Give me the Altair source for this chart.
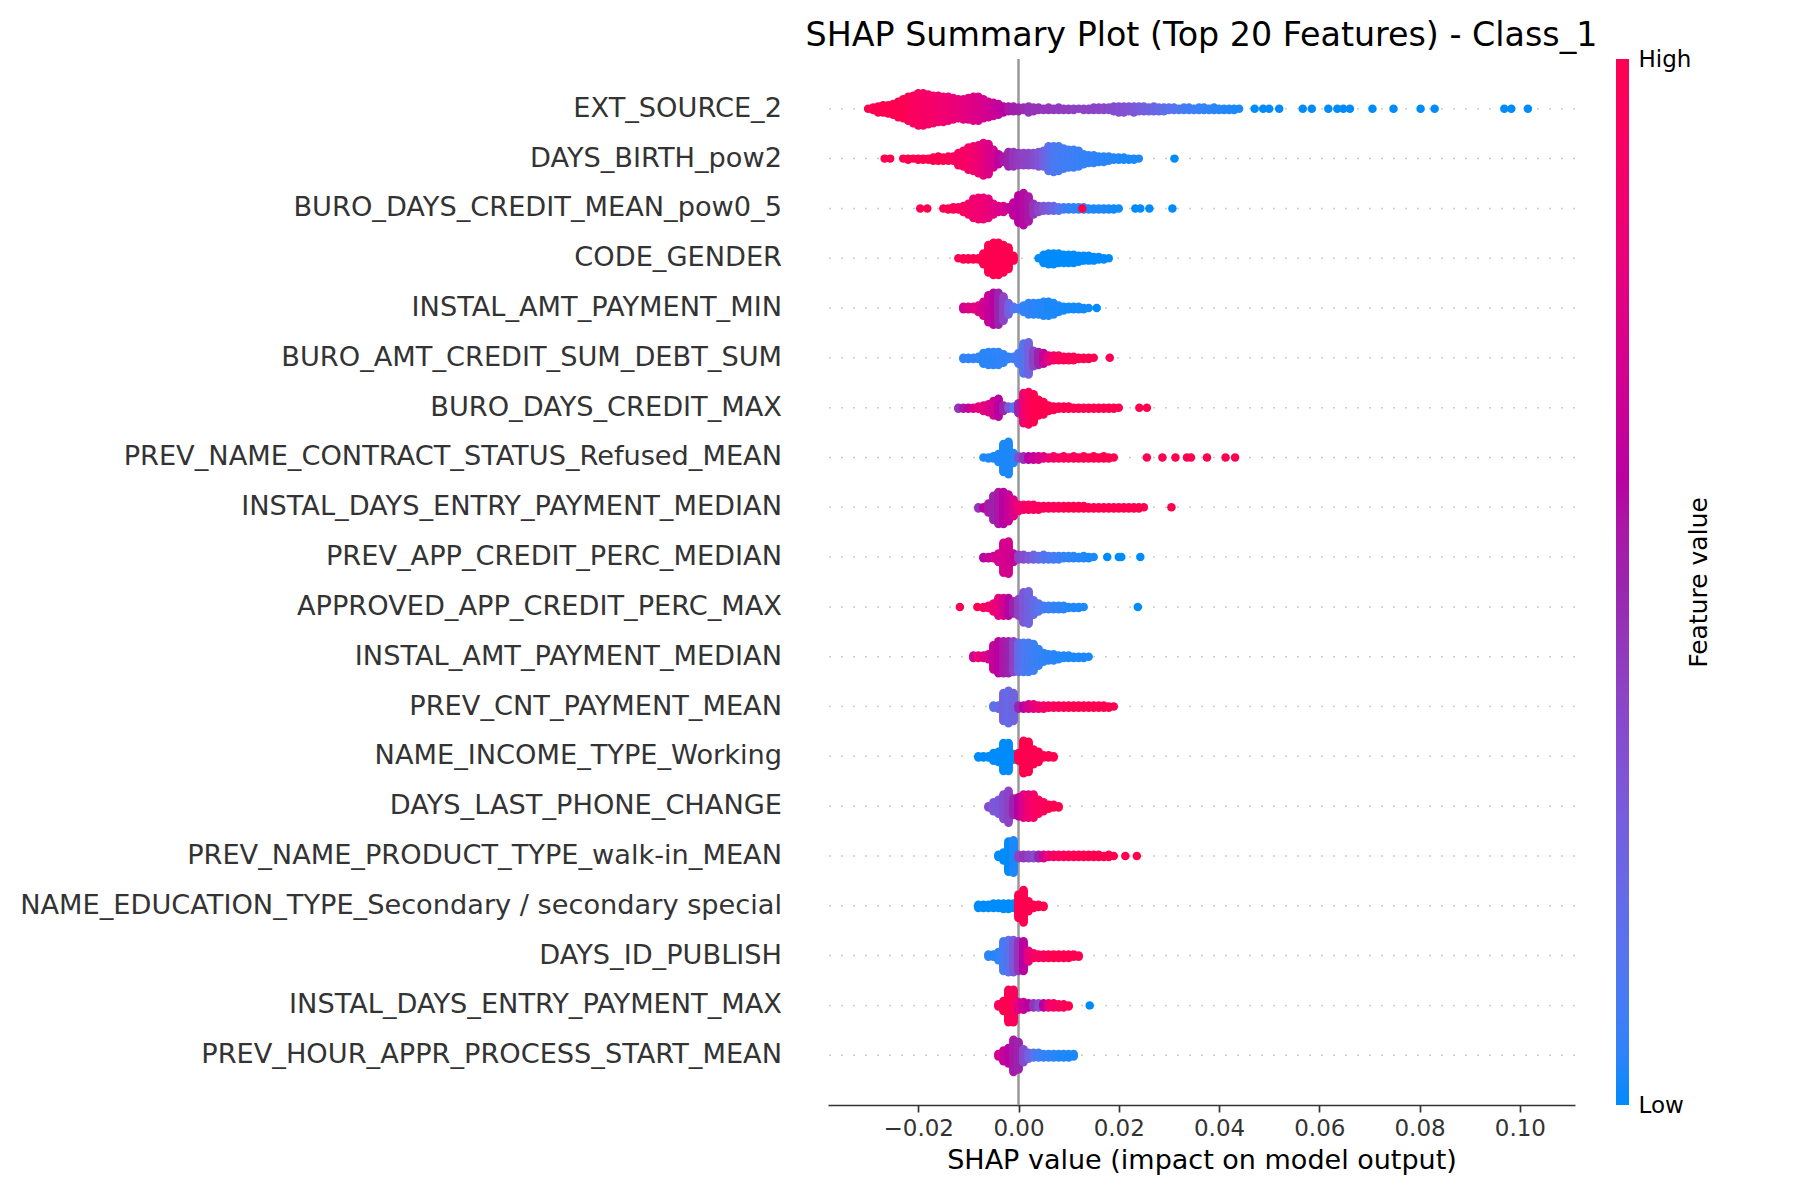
import altair as alt
import numpy as np
import pandas as pd

# rows top to bottom
FEATURES = [
    "EXT_SOURCE_2",
    "DAYS_BIRTH_pow2",
    "BURO_DAYS_CREDIT_MEAN_pow0_5",
    "CODE_GENDER",
    "INSTAL_AMT_PAYMENT_MIN",
    "BURO_AMT_CREDIT_SUM_DEBT_SUM",
    "BURO_DAYS_CREDIT_MAX",
    "PREV_NAME_CONTRACT_STATUS_Refused_MEAN",
    "INSTAL_DAYS_ENTRY_PAYMENT_MEDIAN",
    "PREV_APP_CREDIT_PERC_MEDIAN",
    "APPROVED_APP_CREDIT_PERC_MAX",
    "INSTAL_AMT_PAYMENT_MEDIAN",
    "PREV_CNT_PAYMENT_MEAN",
    "NAME_INCOME_TYPE_Working",
    "DAYS_LAST_PHONE_CHANGE",
    "PREV_NAME_PRODUCT_TYPE_walk-in_MEAN",
    "NAME_EDUCATION_TYPE_Secondary / secondary special",
    "DAYS_ID_PUBLISH",
    "INSTAL_DAYS_ENTRY_PAYMENT_MAX",
    "PREV_HOUR_APPR_PROCESS_START_MEAN",
]

BIN = 0.001  # SHAP bins of 0.001

# each row: (first bin, dots per bin, feature value per bin 0=low..1=high, lone dots (shap, value))
EXT_SOURCE_2 = (
    -0.030,
    [1, 3, 6, 7, 8, 10, 14, 17, 21, 24, 28, 28, 26, 24, 23, 22, 21, 19, 17, 18,
     19, 21, 21, 17, 14, 12, 10, 6, 5, 5, 4, 3, 6, 4, 3, 2, 3, 2, 3, 2,
     2, 2, 1, 2, 2, 3, 3, 3, 3, 5, 6, 6, 5, 6, 5, 5, 4, 5, 4, 4,
     3, 3, 2, 3, 3, 2, 3, 3, 2, 3, 2, 2, 2, 2, 1],
    [1, 1, 1, 1, 1, 1, 1, 1, .97, .95, .93, .92, .9, .9, .88, .86, .85, .84, .82, .8,
     .78, .76, .74, .72, .7, .67, .64, .6, .56, .52, .5, .48, .46, .45, .45, .44, .44, .43, .43, .42,
     .42, .41, .41, .4, .4, .39, .38, .37, .36, .35, .34, .33, .32, .3, .28, .26, .24, .22, .2, .18,
     .16, .14, .12, .1, .09, .08, .07, .06, .05, .04, .04, .03, .03, .02, .02],
    [(0.0471, 0), (0.0488, 0), (0.0500, 0), (0.0520, 0), (0.0567, 0), (0.0585, 0),
     (0.0618, 0), (0.0636, 0), (0.0648, 0), (0.0661, 0), (0.0706, 0), (0.0748, 0),
     (0.0802, 0), (0.0830, 0), (0.0969, 0), (0.0983, 0), (0.1016, 0)],
)
DAYS_BIRTH_pow2 = (
    -0.023,
    [1, 2, 1, 2, 2, 2, 4, 5, 4, 5, 5, 12, 15, 21, 23, 26, 30, 28, 17, 10,
     6, 14, 14, 12, 12, 12, 12, 14, 15, 23, 24, 23, 19, 17, 17, 15, 10, 8, 8, 6,
     6, 5, 3, 3, 3, 2, 2, 1],
    [1, 1, 1, 1, 1, 1, 1, 1, .98, .97, .95, .93, .92, .9, .88, .85, .8, .75, .7, .62,
     .55, .5, .45, .42, .4, .38, .35, .32, .25, .18, .12, .1, .1, .08, .08, .07, .06, .06, .05, .04,
     .04, .04, .03, .03, .02, .02, .02, .02],
    [(-0.0267, 1), (-0.0256, 1), (0.0311, 0)],
)
BURO_DAYS_CREDIT_MEAN_pow0_5 = (
    -0.015,
    [1, 2, 3, 3, 6, 10, 17, 19, 19, 17, 10, 6, 6, 3, 12, 24, 28, 22, 10, 6,
     5, 5, 5, 4, 3, 3, 3, 3, 3, 2, 2, 2, 2, 2, 2, 1],
    [1, 1, .97, .95, .93, .9, .88, .86, .85, .82, .78, .75, .72, .68, .62, .6, .58, .55, .45, .38,
     .32, .28, .22, .15, .1, .06, .05, .04, .04, .03, .02, .02, .02, .02, .01, .01],
    [(-0.0196, 1), (-0.0182, 1), (0.0127, 1), (0.0233, 0), (0.0243, 0), (0.0261, 0), (0.0307, 0)],
)
CODE_GENDER = (
    -0.012,
    [1, 2, 2, 2, 2, 10, 24, 28, 28, 24, 19, 5, 0, 0, 0, 0, 1, 8, 10, 10,
     9, 8, 8, 8, 6, 5, 5, 4, 3, 2, 1],
    [1, 1, 1, 1, 1, 1, 1, 1, 1, 1, 1, 1, 0, 0, 0, 0, 0, 0, 0, 0,
     0, 0, 0, 0, 0, 0, 0, 0, 0, 0, 0],
    [],
)
INSTAL_AMT_PAYMENT_MIN = (
    -0.011,
    [3, 3, 3, 6, 12, 22, 26, 26, 20, 10, 3, 2, 6, 10, 10, 10, 12, 12, 10, 6,
     4, 3, 3, 3, 2, 1],
    [.7, .75, .8, .75, .7, .65, .6, .5, .4, .25, .15, .1, .05, .05, .04, .03, .03, .02, .02, .02,
     .01, .01, .01, .01, .01, .01],
    [(0.0156, 0)],
)
BURO_AMT_CREDIT_SUM_DEBT_SUM = (
    -0.011,
    [2, 2, 2, 3, 10, 12, 12, 12, 8, 3, 3, 10, 26, 28, 14, 12, 10, 6, 5, 5,
     4, 4, 4, 2, 2, 2, 1],
    [.05, .05, .05, .05, .04, .04, .04, .05, .05, .05, .08, .1, .15, .25, .4, .5, .65, .8, .9, .95,
     .96, .97, .98, 1, 1, 1, 1],
    [(0.0182, 1)],
)
BURO_DAYS_CREDIT_MAX = (
    -0.012,
    [2, 2, 2, 2, 3, 6, 8, 14, 17, 6, 3, 3, 10, 28, 30, 26, 15, 12, 6, 4,
     3, 3, 3, 2, 2, 2, 2, 2, 2, 2, 2, 2, 1],
    [.45, .55, .65, .75, .8, .8, .75, .7, .6, .5, .3, .15, .5, .85, .95, 1, 1, 1, 1, 1,
     1, 1, 1, 1, 1, 1, 1, 1, 1, 1, 1, 1, 1],
    [(0.0241, 1), (0.0256, 1)],
)
PREV_NAME_CONTRACT_STATUS_Refused_MEAN = (
    -0.007,
    [1, 2, 3, 8, 26, 30, 10, 3, 4, 4, 4, 4, 3, 2, 3, 2, 3, 2, 3, 2,
     3, 2, 3, 2, 3, 2, 1],
    [.02, .02, .02, .02, .02, .02, .03, .35, .45, .6, .65, .7, .75, .85, .9, .92, .95, .95, .96, .97,
     .98, 1, 1, 1, 1, 1, 1],
    [(0.0256, 1), (0.0287, 1), (0.0313, 1), (0.0336, 1), (0.0344, 1), (0.0376, 1),
     (0.0413, 1), (0.0432, 1)],
)
INSTAL_DAYS_ENTRY_PAYMENT_MEDIAN = (
    -0.008,
    [2, 2, 8, 20, 26, 26, 22, 14, 6, 5, 5, 5, 4, 3, 3, 3, 3, 3, 3, 3,
     3, 3, 2, 2, 2, 2, 2, 2, 2, 2, 2, 2, 2, 1],
    [.45, .6, .55, .5, .55, .6, .65, .75, .85, .9, .92, .93, .95, .95, .95, .96, .97, .98, 1, 1,
     1, 1, 1, 1, 1, 1, 1, 1, 1, 1, 1, 1, 1, 1],
    [(0.0305, 1)],
)
PREV_APP_CREDIT_PERC_MEDIAN = (
    -0.007,
    [2, 2, 3, 8, 26, 28, 8, 5, 5, 4, 5, 4, 5, 4, 4, 4, 3, 3, 3, 2,
     3, 2, 1],
    [.6, .65, .7, .7, .72, .7, .65, .4, .35, .3, .25, .2, .15, .12, .1, .08, .06, .05, .04, .03,
     .03, .02, .02],
    [(0.0177, 0), (0.0200, 0), (0.0205, 0), (0.0243, 0)],
)
APPROVED_APP_CREDIT_PERC_MAX = (
    -0.007,
    [2, 3, 8, 17, 17, 17, 12, 16, 28, 30, 14, 8, 4, 4, 4, 4, 4, 2, 2, 2,
     1],
    [.9, .9, .85, .8, .7, .6, .5, .4, .3, .25, .2, .15, .1, .08, .06, .05, .04, .03, .02, .02,
     .02],
    [(-0.0117, 1), (-0.0082, 1), (0.0238, 0)],
)
INSTAL_AMT_PAYMENT_MEDIAN = (
    -0.009,
    [3, 3, 3, 5, 20, 26, 26, 26, 25, 24, 24, 24, 22, 14, 8, 6, 6, 4, 3, 3,
     2, 2, 2, 1],
    [.7, .85, .75, .7, .65, .6, .55, .5, .4, .2, .12, .1, .08, .06, .05, .04, .04, .03, .03, .02,
     .02, .02, .02, .02],
    [],
)
PREV_CNT_PAYMENT_MEAN = (
    -0.005,
    [3, 4, 26, 30, 26, 4, 4, 5, 5, 4, 4, 3, 3, 3, 3, 3, 3, 3, 3, 3,
     3, 3, 3, 2, 1],
    [.15, .2, .25, .2, .25, .5, .6, .7, .8, .85, .9, .92, .95, .96, .97, .98, 1, 1, 1, 1,
     1, 1, 1, 1, 1],
    [],
)
NAME_INCOME_TYPE_Working = (
    -0.008,
    [2, 2, 2, 8, 10, 26, 26, 6, 8, 30, 28, 14, 10, 3, 3, 2],
    [0, 0, 0, 0, 0, 0, 0, 0, 1, 1, 1, 1, 1, 1, 1, 1],
    [],
)
DAYS_LAST_PHONE_CHANGE = (
    -0.006,
    [2, 8, 12, 20, 26, 14, 16, 19, 19, 19, 12, 8, 4, 3, 2],
    [.35, .3, .3, .35, .4, .5, .6, .75, .85, .9, .95, .95, 1, 1, 1],
    [],
)
PREV_NAME_PRODUCT_TYPE_walk_in_MEAN = (
    -0.004,
    [3, 8, 28, 30, 4, 4, 4, 4, 4, 4, 3, 3, 3, 3, 3, 3, 3, 3, 3, 3,
     3, 2, 3, 1],
    [0, 0, 0, .02, .4, .45, .4, .35, .5, .7, .85, .9, .95, .95, .97, .98, 1, 1, 1, 1,
     1, 1, 1, 1],
    [(0.0213, 1), (0.0236, 1)],
)
NAME_EDUCATION_TYPE_Secondary = (
    -0.008,
    [4, 4, 4, 5, 5, 6, 6, 5, 22, 30, 10, 4, 3, 2],
    [0, 0, 0, 0, 0, 0, 0, 0, 1, 1, 1, 1, 1, 1],
    [],
)
DAYS_ID_PUBLISH = (
    -0.006,
    [3, 3, 8, 26, 28, 28, 26, 26, 10, 5, 4, 4, 4, 4, 4, 4, 4, 3, 2],
    [.05, .03, .05, .1, .15, .3, .45, .6, .8, .9, .95, .95, .97, 1, 1, 1, 1, 1, 1],
    [],
)
INSTAL_DAYS_ENTRY_PAYMENT_MAX = (
    -0.004,
    [3, 10, 30, 30, 8, 8, 5, 5, 5, 5, 5, 5, 4, 4, 2],
    [.95, 1, 1, .95, .75, .65, .6, .45, .35, .6, .85, .9, .95, .95, 1],
    [(0.0142, 0)],
)
PREV_HOUR_APPR_PROCESS_START_MEAN = (
    -0.004,
    [3, 10, 14, 28, 24, 12, 6, 5, 5, 4, 4, 4, 4, 4, 4, 3],
    [.7, .65, .6, .55, .5, .35, .25, .15, .08, .06, .05, .04, .03, .02, .02, .02],
    [],
)

ROWS = [
    EXT_SOURCE_2, DAYS_BIRTH_pow2, BURO_DAYS_CREDIT_MEAN_pow0_5, CODE_GENDER,
    INSTAL_AMT_PAYMENT_MIN, BURO_AMT_CREDIT_SUM_DEBT_SUM, BURO_DAYS_CREDIT_MAX,
    PREV_NAME_CONTRACT_STATUS_Refused_MEAN, INSTAL_DAYS_ENTRY_PAYMENT_MEDIAN,
    PREV_APP_CREDIT_PERC_MEDIAN, APPROVED_APP_CREDIT_PERC_MAX, INSTAL_AMT_PAYMENT_MEDIAN,
    PREV_CNT_PAYMENT_MEAN, NAME_INCOME_TYPE_Working, DAYS_LAST_PHONE_CHANGE,
    PREV_NAME_PRODUCT_TYPE_walk_in_MEAN, NAME_EDUCATION_TYPE_Secondary, DAYS_ID_PUBLISH,
    INSTAL_DAYS_ENTRY_PAYMENT_MAX, PREV_HOUR_APPR_PROCESS_START_MEAN,
]

COLORBAR_ENDS = [0, 1]  # Low, High

BLUE, PURPLE, RED = "#008bfb", "#9b24ad", "#ff0051"


def swarm_levels(n):
    # same stacking as shap: 0, +1, -1, +2, -2, ...
    return [int(np.ceil(k / 2)) * (1 if k % 2 else -1) for k in range(n)]


records = []
for name, (start, counts, values, extras) in zip(FEATURES, ROWS):
    assert len(counts) == len(values), name
    levels = [swarm_levels(n) for n in counts]
    top = max(max(l) for l in levels if l) + 1
    for i, lv in enumerate(levels):
        x = round(start + i * BIN, 4)
        for l in lv:
            records.append({"feature": name, "shap": x,
                            "offset": 0.9 * 0.4 * l / top, "value": values[i]})
    for x, v in extras:
        records.append({"feature": name, "shap": x, "offset": 0.0, "value": v})

df = pd.DataFrame(records)
rows_df = pd.DataFrame({"feature": FEATURES})

y_scale = alt.Scale(paddingInner=0, paddingOuter=0.5)

grid = alt.Chart(rows_df).mark_rule(
    color="#cccccc", strokeWidth=1.5, strokeDash=[2, 10]
).encode(y=alt.Y("feature:N", sort=FEATURES, scale=y_scale, axis=None))

zero = alt.Chart(pd.DataFrame({"shap": [0.0]})).mark_rule(
    color="#999999", strokeWidth=2.5
).encode(x=alt.X("shap:Q"))

dots = alt.Chart(df).mark_circle(size=72, opacity=1).encode(
    x=alt.X("shap:Q", title="SHAP value (impact on model output)",
            scale=alt.Scale(domain=[-0.038, 0.111], nice=False, zero=False),
            axis=alt.Axis(values=[-0.02, 0, 0.02, 0.04, 0.06, 0.08, 0.10], format=".2f",
                          labelExpr="replace(datum.label, '-', '\u2212')")),
    y=alt.Y("feature:N", sort=FEATURES, scale=y_scale, title=""),
    yOffset=alt.YOffset("offset:Q", scale=alt.Scale(domain=[-0.5, 0.5])),
    color=alt.Color(
        "value:Q",
        scale=alt.Scale(domain=[0, 0.5, 1], range=[BLUE, PURPLE, RED], interpolate="hcl"),
        legend=alt.Legend(
            orient="none", legendX=788, legendY=0, direction="vertical",
            gradientLength=1046, gradientThickness=13, gradientStrokeWidth=0,
            labelExpr="''", title="",
        ),
    ),
)

# Low / High and the colour bar caption, carried by an invisible right-hand axis
ends = alt.Chart(pd.DataFrame({"v": COLORBAR_ENDS})).mark_rule(strokeOpacity=0).encode(
    y=alt.Y("v:Q", scale=alt.Scale(domain=[0, 1], nice=False, zero=False),
            axis=alt.Axis(orient="right", values=COLORBAR_ENDS,
                          labelExpr="datum.value == 1 ? 'High' : 'Low'",
                          ticks=False, domain=False, offset=41, labelPadding=22,
                          labelFontSize=23, labelColor="black", labelBaseline="middle",
                          labelFlush=False, labelLimit=200,
                          title="Feature value", titleAngle=270, titleBaseline="alphabetic",
                          titlePadding=16, titleFontSize=25, titleColor="black",
                          titleFontWeight="normal"))
)

chart = alt.layer(grid, zero, dots, ends).resolve_scale(y="independent").resolve_axis(
    y="independent"
).properties(
    width=747,
    height=1046,
    title=alt.TitleParams("SHAP Summary Plot (Top 20 Features) - Class_1", fontSize=33.3,
                          fontWeight="normal", color="black", anchor="middle",
                          frame="group", offset=-5),
    autosize=alt.AutoSizeParams(type="none"),
    padding={"left": 820, "top": 51, "right": 210, "bottom": 90},
).configure(
    font="DejaVu Sans",
).configure_view(
    strokeWidth=0,
).configure_axis(
    grid=False, labelFont="DejaVu Sans", titleFont="DejaVu Sans",
).configure_axisY(
    domain=False, ticks=False, labelFontSize=27.2, labelColor="#333333",
    labelPadding=46.5, labelLimit=1000,
).configure_axisX(
    domainColor="#333333", domainWidth=1.7, tickColor="#333333", tickWidth=1.7,
    tickSize=7, labelFontSize=23, labelColor="#333333", labelPadding=5,
    titleFontSize=27, titleColor="black", titleFontWeight="normal", titlePadding=7,
)

chart.save("out.html", embed_options={"renderer": "svg", "actions": False})
